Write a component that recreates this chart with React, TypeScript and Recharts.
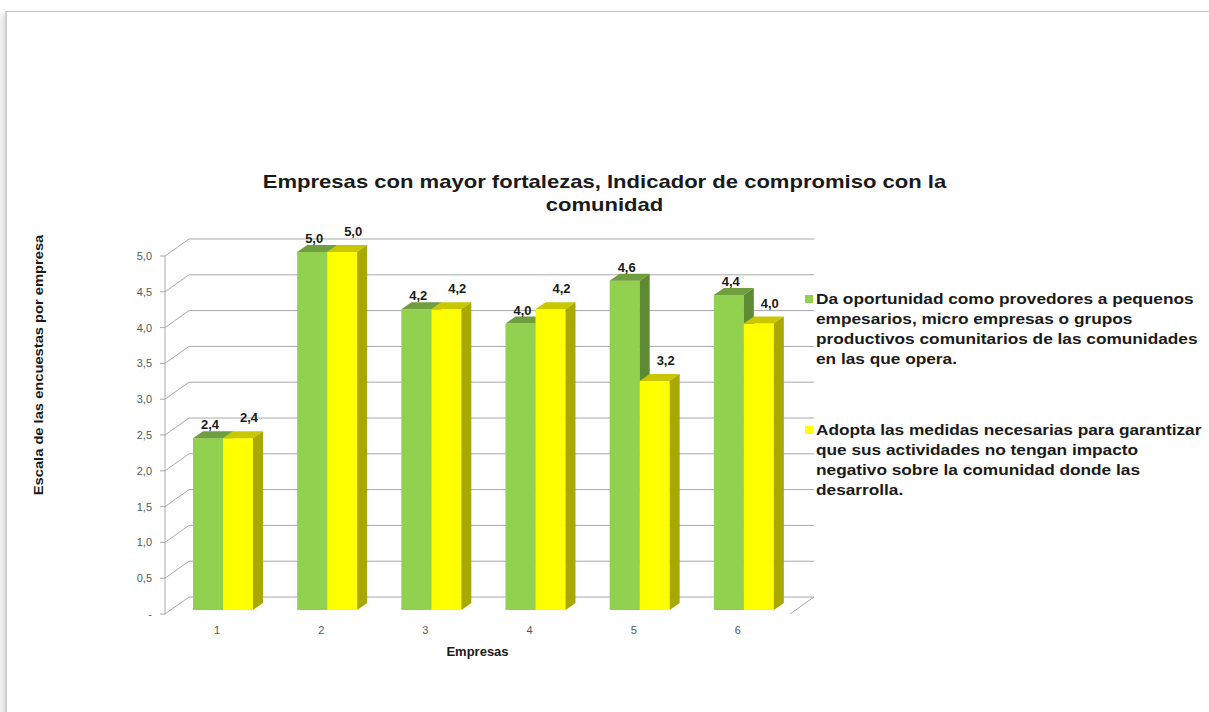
import { BarChart, Bar, XAxis, YAxis, CartesianGrid, LabelList, Label } from "recharts";

const CATEGORIES = ["1", "2", "3", "4", "5", "6"];
const OPORTUNIDAD = [2.4, 5.0, 4.2, 4.0, 4.6, 4.4];
const MEDIDAS = [2.4, 5.0, 4.2, 4.2, 3.2, 4.0];
const SERIES_NAMES = [
  "Da oportunidad como provedores a pequenos\nempesarios, micro empresas o grupos\nproductivos comunitarios de las comunidades\nen las que opera.",
  "Adopta las medidas necesarias para garantizar\nque sus actividades no tengan impacto\nnegativo sobre la comunidad donde las\ndesarrolla.",
];
const Y_TICKS = [0, 0.5, 1, 1.5, 2, 2.5, 3, 3.5, 4, 4.5, 5];
const EDGE_TICKS = [0, 1, 2, 3, 4, 5, 6];

const TITLE = ["Empresas con mayor fortalezas, Indicador de compromiso con la", "comunidad"];
const X_TITLE = "Empresas";
const Y_TITLE = "Escala de las encuestas por empresa";

const data = CATEGORIES.map((c, i) => ({ name: c, a: OPORTUNIDAD[i], b: MEDIDAS[i] }));

const COLORS = [
  { front: "#92d050", top: "#6f9e3e", side: "#5e8a34" },
  { front: "#ffff00", top: "#c9c800", side: "#a9a800" },
];

const FONT = "'Liberation Sans', Arial, sans-serif";
const GRID = "#a9a9a9";
// 3d look
const WALL_DX = 24;
const WALL_DY = 17;
const BAR_DX = 10;
const BAR_DY = 7;
const SHIFT_X = 6;
const SHIFT_Y = 4;

const fmt = (v: number) => (v === 0 ? "-" : v.toFixed(1).replace(".", ","));

function bar3d(c: { front: string; top: string; side: string }) {
  return (p: any) => {
    const { x, y, width, height } = p;
    const X = x + SHIFT_X;
    const Y = y - SHIFT_Y;
    const w = width;
    const h = height;
    return (
      <g>
        <rect x={X} y={Y} width={w} height={h} fill={c.front} />
        <polygon
          points={`${X},${Y} ${X + w},${Y} ${X + w + BAR_DX},${Y - BAR_DY} ${X + BAR_DX},${Y - BAR_DY}`}
          fill={c.top}
        />
        <polygon
          points={`${X + w},${Y} ${X + w + BAR_DX},${Y - BAR_DY} ${X + w + BAR_DX},${Y + h - BAR_DY} ${X + w},${Y + h}`}
          fill={c.side}
        />
      </g>
    );
  };
}

function valueLabel(dx: number, dy: number) {
  return (p: any) => {
    const { x, y, width, value } = p;
    return (
      <text
        x={x + width / 2 + SHIFT_X + dx}
        y={y - dy}
        textAnchor="middle"
        fontSize={13}
        fontWeight="bold"
        fill="#1a1a1a"
        fontFamily={FONT}
      >
        {fmt(value)}
      </text>
    );
  };
}

function gridLine(p: any) {
  const { x1, y1, x2 } = p;
  const isFloor = Math.abs(y1 - 614) < 2;
  return (
    <g key={p.key}>
      <polyline
        points={`${x1},${y1} ${x1 + WALL_DX},${y1 - WALL_DY} ${x2 + WALL_DX},${y1 - WALL_DY}`}
        fill="none"
        stroke={GRID}
        strokeWidth={1}
      />
      {isFloor && (
        <line x1={x2} y1={y1} x2={x2 + WALL_DX} y2={y1 - WALL_DY} stroke={GRID} strokeWidth={1} />
      )}
    </g>
  );
}

export default function App() {
  return (
    <div style={{ position: "absolute", left: 0, top: 0, width: 1209, height: 712, overflow: "hidden", background: "#fff", fontFamily: FONT }}>
      <div
        style={{
          position: "absolute",
          left: 5,
          top: 11,
          width: 1230,
          height: 720,
          borderTop: "1px solid #c4c4c4",
          borderLeft: "2px solid #cfcfcf",
          boxShadow: "-4px 2px 6px rgba(0,0,0,0.12)",
        }}
      />
      <div style={{ position: "absolute", left: 0, width: 1209, top: 170, textAlign: "center", fontWeight: "bold", fontSize: 19, lineHeight: "23px", color: "#1a1a1a" }}>
        {TITLE.map((t) => (
          <div key={t} style={{ transform: "scaleX(1.16)" }}>{t}</div>
        ))}
      </div>
      <div
        style={{
          position: "absolute",
          left: 38,
          top: 365,
          transform: "translate(-50%, -50%) rotate(-90deg) scaleX(1.13)",
          whiteSpace: "nowrap",
          fontWeight: "bold",
          fontSize: 13,
          color: "#1a1a1a",
        }}
      >
        {Y_TITLE}
      </div>
      <BarChart
        width={1209}
        height={712}
        data={data}
        margin={{ top: 256, right: 419, left: 105, bottom: 50 }}
        barCategoryGap={22}
        barGap={0}
        style={{ position: "absolute", left: 0, top: 0, fontFamily: FONT }}
      >
        <CartesianGrid vertical={false} horizontal={gridLine} stroke={GRID} />
        <XAxis
          xAxisId="edges"
          type="number"
          domain={[0, 6]}
          ticks={EDGE_TICKS}
          tick={false}
          height={0}
          tickSize={5}
          axisLine={{ stroke: GRID }}
          tickLine={{ stroke: GRID }}
        />
        <XAxis
          dataKey="name"
          axisLine={false}
          tickLine={false}
          tickSize={6}
          tickMargin={6}
          height={48}
          tick={{ fill: "#595959", fontSize: 11 }}
        >
          <Label value={X_TITLE} position="insideBottom" offset={6} fill="#1a1a1a" fontWeight="bold" fontSize={13} />
        </XAxis>
        <YAxis
          domain={[0, 5]}
          ticks={Y_TICKS}
          interval={0}
          width={60}
          tickSize={5}
          tickMargin={8}
          tickFormatter={fmt}
          axisLine={{ stroke: GRID }}
          tickLine={{ stroke: GRID }}
          tick={{ fill: "#595959", fontSize: 11 }}
        />
        <Bar dataKey="a" name={SERIES_NAMES[0]} fill={COLORS[0].front} shape={bar3d(COLORS[0])} isAnimationActive={false}>
          <LabelList dataKey="a" content={valueLabel(2, 13)} />
        </Bar>
        <Bar dataKey="b" name={SERIES_NAMES[1]} fill={COLORS[1].front} shape={bar3d(COLORS[1])} isAnimationActive={false}>
          <LabelList dataKey="b" content={valueLabel(11, 20)} />
        </Bar>
      </BarChart>
      <div style={{ position: "absolute", left: 805, top: 289, fontWeight: "bold", fontSize: 15, lineHeight: "20px", color: "#1a1a1a" }}>
        {SERIES_NAMES.map((n, i) => (
          <div key={i} style={{ display: "flex", alignItems: "flex-start", marginBottom: 51 }}>
            <div style={{ width: 8, height: 8, marginTop: 6, background: COLORS[i].front, flex: "none" }} />
            <div style={{ whiteSpace: "pre", transform: "scaleX(1.15)", transformOrigin: "left", marginLeft: 3 }}>{n}</div>
          </div>
        ))}
      </div>
    </div>
  );
}
